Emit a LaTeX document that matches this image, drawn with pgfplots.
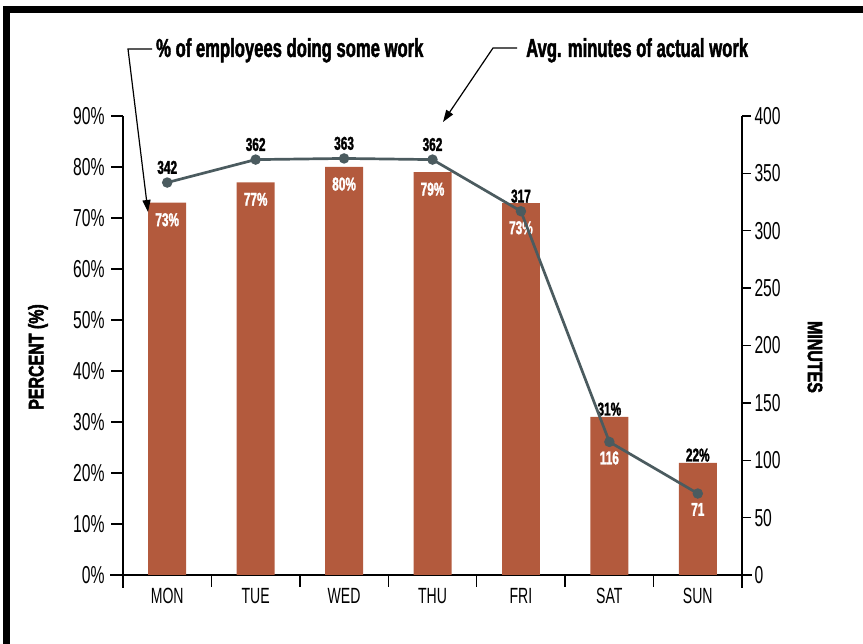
\documentclass[border=0pt]{standalone}
\usepackage{fontspec}
\setmainfont{Liberation Sans}[FakeStretch=0.64, BoldFeatures={FakeBold=1.6}]
\newfontfamily\axfont{Liberation Sans}[FakeStretch=0.76, BoldFeatures={FakeBold=2.2}]
\usepackage{pgfplots}
\pgfplotsset{compat=1.18}
\usetikzlibrary{arrows.meta}

\definecolor{barred}{HTML}{B35A3D}
\definecolor{linegray}{HTML}{4B5B5F}

\newcommand\tickfont{\fontsize{24.5bp}{26bp}\selectfont}
\newcommand\dayfont{\fontsize{22bp}{24bp}\selectfont}
\newcommand\datafont{\fontsize{18.5bp}{20bp}\selectfont\bfseries}
\newcommand\annfont{\fontsize{26bp}{30bp}\selectfont\bfseries}
\newcommand\titlefont{\axfont\fontsize{21bp}{24bp}\selectfont\bfseries}

\pgfplotsset{
  base/.style={
    at={(123bp,69bp)}, anchor=south west,
    scale only axis, width=619bp, height=459bp,
    xmin=-0.5, xmax=6.5, ymin=0,
    /pgf/number format/assume math mode=true,
    tick align=outside,
    tick style={black, line width=1.3bp},
    y axis line style={line width=2.6bp, shorten <=-13bp},
    yticklabel style={font=\tickfont},
  },
}

\begin{document}
\begin{tikzpicture}[x=1bp,y=1bp]
\useasboundingbox (0,0) rectangle (863,644);
\draw[line width=7bp] (6.5,-20) -- (6.5,634.5) -- (900,634.5);

% percent bars, left axis
\begin{axis}[base, ymax=90,
  axis x line*=bottom, axis y line*=left,
  x axis line style={line width=2.6bp, shorten <=-13bp, shorten >=-10bp},
  ytick={0,10,...,90},
  yticklabel={\pgfmathprintnumber{\tick}\%},
  yticklabel style={xshift=-3bp},
  major tick length=12bp,
  xtick={0.5,1.5,...,5.5}, xticklabels={},
  extra x ticks={0,...,6},
  extra x tick labels={MON,TUE,WED,THU,FRI,SAT,SUN},
  extra x tick style={major tick length=0pt, tick style={draw=none},
    xticklabel style={font=\dayfont, yshift=-10bp}},
]
\addplot[ybar, bar width=38bp, bar shift=0pt, fill=barred, draw=none,
  nodes near coords={\pgfmathprintnumber{\pgfplotspointmeta}\%},
  nodes near coords align={below},
  every node near coord/.append style={font=\datafont, text=white, yshift=-7bp}]
  coordinates {(0,73) (1,77) (2,80) (3,79)};
\addplot[ybar, bar width=38bp, bar shift=0pt, fill=barred, draw=none,
  nodes near coords={\pgfmathprintnumber{\pgfplotspointmeta}\%},
  nodes near coords align={below},
  every node near coord/.append style={font=\datafont, text=white, yshift=-15bp}]
  coordinates {(4,73)};
\addplot[ybar, bar width=38bp, bar shift=0pt, fill=barred, draw=none,
  nodes near coords={\pgfmathprintnumber{\pgfplotspointmeta}\%},
  every node near coord/.append style={font=\datafont, text=black, inner sep=1bp}]
  coordinates {(5,31) (6,22)};
\end{axis}

% minutes line, right axis
\begin{axis}[base, ymax=400,
  axis x line=none, axis y line*=right,
  ytick={0,50,...,400},
  major tick length=9bp,
]
\addplot[linegray, line width=2.7bp, mark=*, mark size=3.8bp,
  mark options={fill=linegray, draw=linegray}]
  coordinates {(0,342) (1,362) (2,363) (3,362) (4,317) (5,116) (6,71)};
\addplot[draw=none, mark=none,
  nodes near coords={\pgfmathprintnumber{\pgfplotspointmeta}},
  every node near coord/.append style={font=\datafont, text=black, anchor=south, yshift=5bp}]
  coordinates {(0,342) (1,362) (2,363) (3,362) (4,317)};
\addplot[draw=none, mark=none,
  nodes near coords={\pgfmathprintnumber{\pgfplotspointmeta}},
  every node near coord/.append style={font=\datafont, text=white, anchor=north, yshift=-6bp}]
  coordinates {(5,116) (6,71)};
\end{axis}

% axis titles
\node[font=\titlefont, rotate=90] at (38,287) {PERCENT (\%)};
\node[font=\titlefont, rotate=-90] at (815,287) {MINUTES};

% call-outs
\node[font=\annfont, anchor=base west, inner sep=0pt] at (156,587) {\% of employees doing some work};
\draw[line width=1.2bp, -{Triangle[length=12bp,width=8bp]}] (152,595) -- (128,595) -- (148,432);
\node[font=\annfont, anchor=base west, inner sep=0pt] at (526,587) {Avg. minutes of actual work};
\draw[line width=1.2bp, -{Triangle[length=12bp,width=8bp]}] (517,596) -- (493,596) -- (443,522);
\end{tikzpicture}
\end{document}
